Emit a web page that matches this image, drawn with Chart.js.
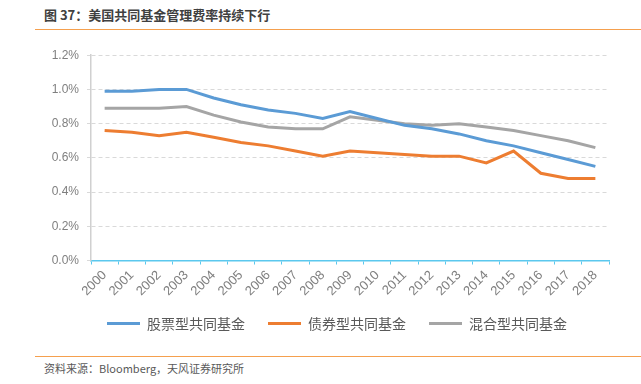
<!DOCTYPE html>
<html>
<head>
<meta charset="utf-8">
<script src="https://cdn.jsdelivr.net/npm/chart.js@4/dist/chart.umd.min.js"></script>
<style>
  body { margin: 0; background: #fff; font-family: "Noto Sans CJK SC", sans-serif; }
  #page { position: relative; width: 641px; height: 384px; overflow: hidden; }
  #title { position: absolute; left: 44px; top: 5px; font-size: 13px; font-weight: bold; color: #404040; }
  .rule { position: absolute; left: 35px; right: 0; height: 1px; background: #F5A04E; }
  #source { position: absolute; left: 44px; top: 360px; font-size: 11px; color: #595959; }
  #box { position: absolute; left: 0; top: 40px; width: 641px; height: 316px; }
</style>
</head>
<body>
<div id="page">
  <div id="title">图 37：美国共同基金管理费率持续下行</div>
  <div class="rule" style="top:29px"></div>
  <div id="box"><canvas id="fees"></canvas></div>
  <div class="rule" style="top:356px"></div>
  <div id="source">资料来源：Bloomberg，天风证券研究所</div>
</div>
<script>
const years = ['2000','2001','2002','2003','2004','2005','2006','2007','2008','2009',
               '2010','2011','2012','2013','2014','2015','2016','2017','2018'];
const equityFunds = [0.99,0.99,1.00,1.00,0.95,0.91,0.88,0.86,0.83,0.87,0.83,0.79,0.77,0.74,0.70,0.67,0.63,0.59,0.55];
const bondFunds   = [0.76,0.75,0.73,0.75,0.72,0.69,0.67,0.64,0.61,0.64,0.63,0.62,0.61,0.61,0.57,0.64,0.51,0.48,0.48];
const hybridFunds = [0.89,0.89,0.89,0.90,0.85,0.81,0.78,0.77,0.77,0.84,0.82,0.80,0.79,0.80,0.78,0.76,0.73,0.70,0.66];
const yTicks = [0, 0.2, 0.4, 0.6, 0.8, 1.0, 1.2];

const numFont = '"Liberation Sans", "Noto Sans CJK SC", sans-serif';
const cjkFont = '"Noto Sans CJK SC", sans-serif';

function line(label, values, color) {
  return {
    label: label,
    data: values,
    borderColor: color,
    backgroundColor: color,
    borderWidth: 3,
    pointRadius: 0,
    tension: 0,
    pointStyle: 'line'
  };
}

const ctx = document.getElementById('fees').getContext('2d');
const feesChart = new Chart(ctx, {
  type: 'line',
  data: {
    labels: years,
    datasets: [
      line('股票型共同基金', equityFunds, '#5B9BD5'),
      line('债券型共同基金', bondFunds, '#ED7D31'),
      line('混合型共同基金', hybridFunds, '#A5A5A5')
    ]
  },
  options: {
    responsive: true,
    maintainAspectRatio: false,
    animation: false,
    layout: { padding: { top: 11, right: 32, left: 0, bottom: 7 } },
    plugins: {
      tooltip: { enabled: false },
      legend: {
        position: 'bottom',
        labels: {
          usePointStyle: true,
          pointStyleWidth: 33,
          boxHeight: 14,
          padding: 23,
          color: '#595959',
          font: { family: cjkFont, size: 14 }
        }
      }
    },
    scales: {
      x: {
        offset: true,
        grid: {
          offset: true,
          drawOnChartArea: false,
          drawTicks: true,
          tickLength: 4,
          color: '#5BC8EE'
        },
        border: { color: '#5BC8EE', width: 1.5 },
        ticks: {
          minRotation: 45,
          maxRotation: 45,
          autoSkip: false,
          color: '#7F7F7F',
          font: { family: numFont, size: 13 }
        }
      },
      y: {
        min: 0,
        max: 1.2,
        afterFit: (scale) => { scale.width = 91; },
        afterBuildTicks: (scale) => { scale.ticks = yTicks.map(v => ({ value: v })); },
        grid: {
          color: '#D9D9D9',
          tickLength: 4,
          drawTicks: true
        },
        // in v4 border.dash styles the grid lines, the axis line stays solid
        border: { color: '#D0D0D0', width: 1.5, dash: [4, 3] },
        ticks: {
          padding: 8,
          color: '#7F7F7F',
          font: { family: numFont, size: 12 },
          callback: (v) => v.toFixed(1) + '%'
        }
      }
    }
  },
  plugins: [{
    id: 'legendShift',
    afterLayout(chart) {
      // reference legend sits closer to the axis labels and a bit right of centre
      const lg = chart.legend;
      const h = lg.height;
      lg.left = 65;
      lg.right = 609;
      lg.top = 277 - h / 2;
      lg.bottom = lg.top + h;
    }
  }]
});
</script>
</body>
</html>
